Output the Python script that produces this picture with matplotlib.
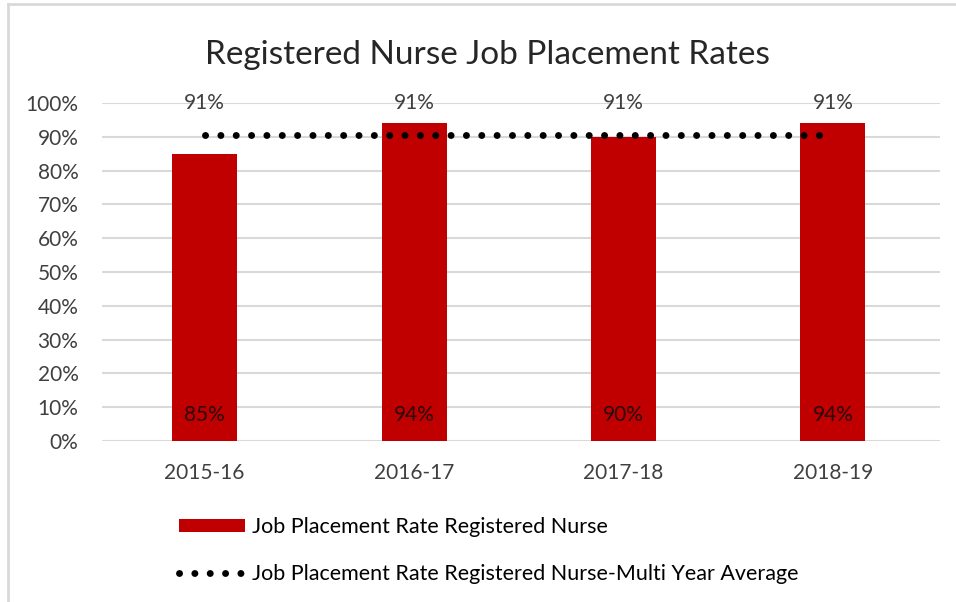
import matplotlib.pyplot as plt
from matplotlib.lines import Line2D
from matplotlib.patches import Patch

# Chart data
YEARS = ["2015-16", "2016-17", "2017-18", "2018-19"]
PLACEMENT_RATE = [0.85, 0.94, 0.90, 0.94]
MULTI_YEAR_AVG = [0.905, 0.905, 0.905, 0.905]
AVG_LABELS = ["91%", "91%", "91%", "91%"]

BAR_COLOR = "#c00000"
GRID_COLOR = "#d9d9d9"
TEXT_COLOR = "#404040"

plt.rcParams["font.family"] = ["Lato", "DejaVu Sans"]

fig = plt.figure(figsize=(9.56, 6.02), dpi=100)
ax = fig.add_axes([0.1067, 0.2674, 0.8763, 0.5615])

x = list(range(len(YEARS)))

# Bars
ax.bar(x, PLACEMENT_RATE, width=0.31, color=BAR_COLOR, zorder=2)

# Multi year average (dotted)
ax.plot(x, MULTI_YEAR_AVG, color="black", linestyle=(0, (0.01, 2.2)),
        linewidth=5, dash_capstyle="round", zorder=3)

# Data labels
for xi, val in zip(x, PLACEMENT_RATE):
    ax.annotate(f"{val:.0%}", (xi, 0), xytext=(0, 19), textcoords="offset points",
                ha="center", va="center", fontsize=15, color="#2a0a0a")
for xi, val, lab in zip(x, MULTI_YEAR_AVG, AVG_LABELS):
    ax.annotate(lab, (xi, val), xytext=(0, 23), textcoords="offset points",
                ha="center", va="center", fontsize=15, color=TEXT_COLOR,
                zorder=4)

ax.set_xlim(-0.49, 3.51)
ax.set_ylim(0, 1.0)
ax.set_yticks([i / 10 for i in range(11)])
ax.set_yticklabels([f"{i * 10}%" for i in range(11)])
ax.set_xticks(x)
ax.set_xticklabels(YEARS)
ax.tick_params(axis="both", length=0, labelsize=15, labelcolor=TEXT_COLOR)
ax.tick_params(axis="y", pad=17)
ax.tick_params(axis="x", pad=16)
ax.yaxis.grid(True, color=GRID_COLOR, linewidth=1.5, zorder=0)
ax.set_axisbelow(True)
for s in ax.spines.values():
    s.set_visible(False)

fig.text(0.51, 0.909, "Registered Nurse Job Placement Rates", ha="center",
         va="center", fontsize=24, color="#262626")

# Legend
handles = [
    Patch(facecolor=BAR_COLOR, edgecolor="none"),
    Line2D([0], [0], color="black", linestyle=(0, (0.01, 2.2)), linewidth=5,
           dash_capstyle="round"),
]
labels = ["Job Placement Rate Registered Nurse",
          "Job Placement Rate Registered Nurse-Multi Year Average"]
fig.legend(handles, labels, loc="upper left", bbox_to_anchor=(0.176, 0.159),
           frameon=False, fontsize=15.5, handlelength=3.07, handleheight=0.5,
           handletextpad=0.33, labelspacing=1.23, borderpad=0, labelcolor="black")

# Chart frame (left and top edges visible)
fig.add_artist(Line2D([0.0085, 0.0085], [0, 0.993], color=GRID_COLOR, linewidth=2))
fig.add_artist(Line2D([0.0085, 1], [0.993, 0.993], color=GRID_COLOR, linewidth=2))

fig.savefig("out.png", dpi=100)
